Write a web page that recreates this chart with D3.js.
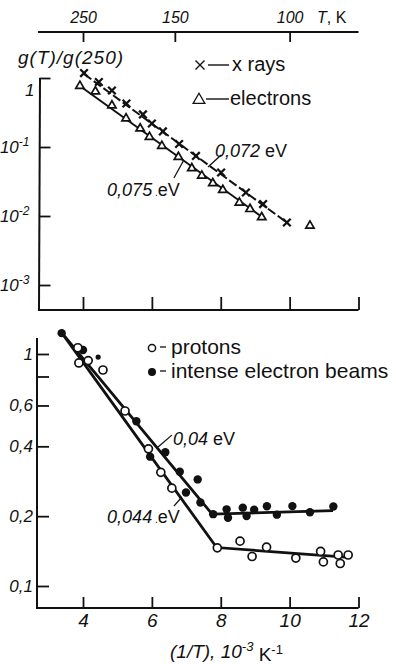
<!DOCTYPE html>
<html>
<head>
<meta charset="utf-8">
<script src="https://cdn.jsdelivr.net/npm/d3@7"></script>
<style>
  body { margin: 0; background: #fff; }
  svg { display: block; }
  text { fill: #111; font-family: "Liberation Sans", Arial, sans-serif; }
  .it { font-style: italic; }
</style>
</head>
<body>
<div id="chart"></div>
<script>
"use strict";

// == DATA (x = 1/T in 10^-3 K^-1, y = g(T)/g(250)) ==
var xTicks = [4, 6, 8, 10, 12];
var tempTicks = [250, 150, 100];
var topYTicks = [1, 0.1, 0.01, 0.001];
var topYExp = ["", "-1", "-2", "-3"];
var bottomYTicks = [1, 0.8, 0.6, 0.4, 0.2, 0.1];
var bottomYLabels = ["1", "", "0,6", "0,4", "0,2", "0,1"];

// top panel: x rays (crosses) and electrons (triangles)
var xrayInvT  = [4.03, 4.46, 4.84, 5.26, 5.74, 6.00, 6.32, 6.79, 7.28, 8.01, 8.73, 9.23, 9.92];
var xrayRatio = [1.18, 0.875, 0.659, 0.427, 0.296, 0.219, 0.168, 0.1105, 0.0741, 0.0427, 0.0219, 0.0149, 0.00805];
var elecInvT  = [3.91, 4.36, 4.84, 5.25, 5.66, 5.93, 6.29, 6.77, 7.16, 7.45, 7.77, 8.06, 8.54, 8.85, 9.19, 10.59];
var elecRatio = [0.766, 0.637, 0.399, 0.259, 0.185, 0.1396, 0.1034, 0.0716, 0.0491, 0.0384, 0.0298, 0.0238, 0.0156, 0.0126, 0.00958, 0.00723];
var xrayFitInvT  = [4.03, 9.92];
var xrayFitRatio = [1.143, 0.00805];
var elecFitInvT  = [3.91, 9.20];
var elecFitRatio = [0.766, 0.00967];

// bottom panel: protons (open) and intense electron beams (filled)
var protonInvT  = [3.85, 3.88, 4.15, 4.58, 5.22, 5.90, 6.26, 6.58, 7.90, 8.56, 8.91, 9.33, 10.18, 10.90, 10.98, 11.41, 11.47, 11.70];
var protonRatio = [1.064, 0.915, 0.937, 0.853, 0.568, 0.390, 0.309, 0.264, 0.146, 0.156, 0.134, 0.147, 0.132, 0.141, 0.127, 0.136, 0.125, 0.136];
var beamInvT  = [3.38, 4.00, 5.55, 5.95, 6.39, 6.81, 7.33, 6.99, 7.41, 7.78, 8.17, 8.21, 8.64, 8.75, 8.97, 9.34, 9.63, 10.08, 10.59, 11.27];
var beamRatio = [1.23, 1.04, 0.513, 0.361, 0.377, 0.311, 0.288, 0.253, 0.229, 0.204, 0.214, 0.197, 0.2176, 0.2003, 0.213, 0.2206, 0.203, 0.221, 0.208, 0.220];
var strayInvT  = [4.44];
var strayRatio = [0.97];
var beamFitInvT    = [3.39, 7.75, 11.26];
var beamFitRatio   = [1.23, 0.204, 0.2115];
var protonFitInvT  = [3.39, 7.88, 11.61];
var protonFitRatio = [1.23, 0.1465, 0.1333];

// == BOILERPLATE ==
var width = 396, height = 664;
var svg = d3.select("#chart").append("svg")
  .attr("width", width).attr("height", height);

var x = d3.scaleLinear().domain([4, 12]).range([83, 358.5]);
var yTop = d3.scaleLog().domain([1, 0.001]).range([78, 285]);
var yBot = d3.scaleLog().domain([1, 0.1]).range([354, 586]);

var axisLeftX = 38, topBase = 310, botBase = 608, tAxisY = 32;
var ink = "#111";

function zip(a, b) { return a.map(function (v, i) { return [v, b[i]]; }); }

function plainLine(g, pts, w, dash) {
  g.append("path")
    .attr("d", d3.line()(pts))
    .attr("fill", "none").attr("stroke", ink).attr("stroke-width", w)
    .attr("stroke-dasharray", dash || null);
}

function styleAxis(g) {
  g.select(".domain").remove();
  g.selectAll("line").attr("stroke", ink).attr("stroke-width", 1.8);
  g.selectAll("text").attr("class", "it").attr("fill", ink)
    .style("font-family", "'Liberation Sans', Arial, sans-serif");
}

// == TOP T axis ==
var gT = svg.append("g").attr("transform", "translate(0," + tAxisY + ")")
  .call(d3.axisTop(x).tickValues(tempTicks.map(function (t) { return 1000 / t; }))
    .tickSizeInner(-10).tickSizeOuter(0).tickPadding(9)
    .tickFormat(function (v) { return Math.round(1000 / v); }));
styleAxis(gT);
gT.selectAll("text").style("font-size", "16px");
plainLine(svg, [[axisLeftX, tAxisY], [x(12), tAxisY]], 1.8);
svg.append("text").attr("x", 317).attr("y", 23).style("font-size", "16px")
  .html('<tspan class="it">T</tspan>, K');

// == TOP PANEL ==
plainLine(svg, [[axisLeftX + 2, yTop(1)], [axisLeftX + 1, topBase]], 2);
plainLine(svg, [[axisLeftX, topBase], [x(12), topBase]], 2);
var gTopX = svg.append("g").attr("transform", "translate(0," + topBase + ")")
  .call(d3.axisTop(x).tickValues(xTicks).tickSize(13).tickSizeOuter(0).tickFormat(""));
styleAxis(gTopX);

var gTopY = svg.append("g").attr("transform", "translate(" + (axisLeftX + 1.5) + ",0)")
  .call(d3.axisLeft(yTop).tickValues(topYTicks).tickSizeInner(-11).tickSizeOuter(0).tickPadding(3)
    .tickFormat(function (d, i) { return i === 0 ? "1" : "10"; }));
styleAxis(gTopY);
gTopY.selectAll("text").style("font-size", "17px")
  .each(function (d, i) {
    var t = d3.select(this);
    if (i === 0) { t.attr("dy", "1.05em").attr("x", -5); return; }
    t.attr("x", -10);
    t.append("tspan").attr("dy", "-0.55em").style("font-size", "12px").text(topYExp[i]);
  });

svg.append("text").attr("class", "it").attr("x", 18).attr("y", 64)
  .style("font-size", "19px").style("letter-spacing", "1px").text("g(T)/g(250)");

var gTop = svg.append("g");
plainLine(gTop, zip(xrayFitInvT, xrayFitRatio).map(function (d) { return [x(d[0]), yTop(d[1])]; }), 2, "9,3");
plainLine(gTop, zip(elecFitInvT, elecFitRatio).map(function (d) { return [x(d[0]), yTop(d[1])]; }), 2);

gTop.selectAll(".xray").data(zip(xrayInvT, xrayRatio)).enter().append("path")
  .attr("transform", function (d) { return "translate(" + x(d[0]) + "," + yTop(d[1]) + ")"; })
  .attr("d", "M-3.8,-3.8L3.8,3.8M-3.8,3.8L3.8,-3.8")
  .attr("stroke", ink).attr("stroke-width", 2.3).attr("fill", "none");

var tri = d3.symbol().type(d3.symbolTriangle).size(30);
gTop.selectAll(".elec").data(zip(elecInvT, elecRatio)).enter().append("path")
  .attr("transform", function (d) { return "translate(" + x(d[0]) + "," + yTop(d[1]) + ")"; })
  .attr("d", tri)
  .attr("stroke", ink).attr("stroke-width", 1.7).attr("fill", "#fff");

// annotations
plainLine(gTop, [[x(8.01), yTop(0.0765)], [x(7.63), yTop(0.0513)]], 1.3);
gTop.append("text").attr("x", x(7.83)).attr("y", yTop(0.0716)).style("font-size", "18px")
  .html('<tspan class="it">0,072</tspan> eV');
plainLine(gTop, [[x(6.64), yTop(0.0356)], [x(6.93), yTop(0.0648)]], 1.3);
gTop.append("text").attr("x", x(4.70)).attr("y", yTop(0.0195)).style("font-size", "18px")
  .html('<tspan class="it">0,075</tspan><tspan style="font-size:10px"> .</tspan>eV');

// legend
var lg = svg.append("g").style("font-size", "20px");
lg.append("path").attr("transform", "translate(200,65)")
  .attr("d", "M-4.5,-4.5L4.5,4.5M-4.5,4.5L4.5,-4.5").attr("stroke", ink).attr("stroke-width", 1.4);
plainLine(lg, [[208, 65], [229, 65]], 1.4);
lg.append("text").attr("x", 232).attr("y", 71).text("x rays");
lg.append("path").attr("transform", "translate(199,100)")
  .attr("d", d3.symbol().type(d3.symbolTriangle).size(60))
  .attr("stroke", ink).attr("stroke-width", 1.3).attr("fill", "none");
plainLine(lg, [[206, 99], [229, 99]], 1.4);
lg.append("text").attr("x", 230).attr("y", 105).text("electrons");

// == BOTTOM PANEL ==
plainLine(svg, [[axisLeftX - 1, 338], [axisLeftX - 1, botBase]], 2);
plainLine(svg, [[axisLeftX - 2, botBase], [x(12), botBase]], 2);
var gBotX = svg.append("g").attr("transform", "translate(0," + botBase + ")")
  .call(d3.axisBottom(x).tickValues(xTicks).tickSizeInner(-11).tickSizeOuter(0).tickPadding(6)
    .tickFormat(d3.format("d")));
styleAxis(gBotX);
gBotX.selectAll("text").style("font-size", "19px");

var gBotY = svg.append("g").attr("transform", "translate(" + (axisLeftX - 1) + ",0)")
  .call(d3.axisLeft(yBot).tickValues(bottomYTicks).tickSizeInner(-12).tickSizeOuter(0).tickPadding(4)
    .tickFormat(function (d, i) { return bottomYLabels[i]; }));
styleAxis(gBotY);
gBotY.selectAll("text").style("font-size", "17px");

svg.append("text").attr("x", 170).attr("y", 658).style("font-size", "19px")
  .html('<tspan class="it">(1/T), 10</tspan><tspan class="it" dy="-0.55em" style="font-size:13px">-3</tspan>' +
        '<tspan dy="0.55em"> K</tspan><tspan dy="-0.55em" style="font-size:13px">-1</tspan>');

var gBot = svg.append("g");
plainLine(gBot, zip(beamFitInvT, beamFitRatio).map(function (d) { return [x(d[0]), yBot(d[1])]; }), 2.8);
plainLine(gBot, zip(protonFitInvT, protonFitRatio).map(function (d) { return [x(d[0]), yBot(d[1])]; }), 2.8);

gBot.selectAll(".beam").data(zip(beamInvT, beamRatio)).enter().append("circle")
  .attr("cx", function (d) { return x(d[0]); })
  .attr("cy", function (d) { return yBot(d[1]); })
  .attr("r", 4.2).attr("fill", ink);
gBot.selectAll(".stray").data(zip(strayInvT, strayRatio)).enter().append("circle")
  .attr("cx", function (d) { return x(d[0]); })
  .attr("cy", function (d) { return yBot(d[1]); })
  .attr("r", 2.6).attr("fill", ink);
gBot.selectAll(".proton").data(zip(protonInvT, protonRatio)).enter().append("circle")
  .attr("cx", function (d) { return x(d[0]); })
  .attr("cy", function (d) { return yBot(d[1]); })
  .attr("r", 4).attr("fill", "#fff").attr("stroke", ink).attr("stroke-width", 1.7);

// annotations
plainLine(gBot, [[x(6.18), yBot(0.397)], [x(6.58), yBot(0.447)]], 1.3);
gBot.append("text").attr("x", x(6.61)).attr("y", yBot(0.405)).style("font-size", "18px")
  .html('<tspan class="it">0,04</tspan> eV');
plainLine(gBot, [[x(6.64), yBot(0.221)], [x(6.87), yBot(0.242)]], 1.3);
gBot.append("text").attr("x", x(4.70)).attr("y", yBot(0.187)).style("font-size", "18px")
  .html('<tspan class="it">0,044</tspan><tspan style="font-size:10px"> .</tspan>eV');

// legend
var lb = svg.append("g").style("font-size", "21px");
lb.append("circle").attr("cx", 152).attr("cy", 348).attr("r", 3.6)
  .attr("fill", "#fff").attr("stroke", ink).attr("stroke-width", 1.5);
plainLine(lb, [[160, 347], [166, 347]], 1.3);
lb.append("text").attr("x", 171).attr("y", 354).text("protons");
lb.append("circle").attr("cx", 152).attr("cy", 372).attr("r", 4).attr("fill", ink);
plainLine(lb, [[160, 371], [166, 371]], 1.3);
lb.append("text").attr("x", 171).attr("y", 378).text("intense electron beams");
</script>
</body>
</html>
